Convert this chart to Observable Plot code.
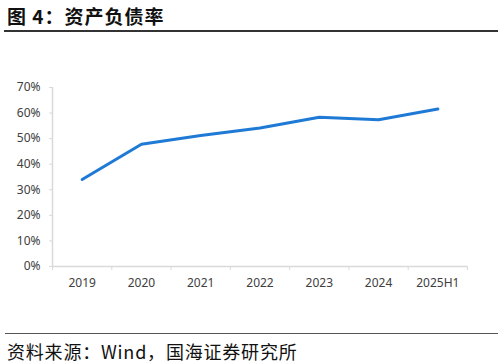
<!DOCTYPE html>
<html>
<head>
<meta charset="utf-8">
<script src="https://cdn.jsdelivr.net/npm/d3@7"></script>
<script src="https://cdn.jsdelivr.net/npm/@observablehq/plot@0.6"></script>
<style>
  html, body { margin: 0; padding: 0; background: #fff; }
  body { width: 498px; height: 364px; position: relative; overflow: hidden;
         font-family: "Noto Sans", "Noto Sans CJK SC", sans-serif; }
  #title { position: absolute; left: 7px; top: 4px; font-size: 19px; font-weight: bold;
           font-family: "Noto Sans CJK SC", sans-serif; color: #111; letter-spacing: 1px; line-height: 24px; }
  #topline { position: absolute; left: 4px; right: 0; top: 30px; height: 0; border-top: 2px solid #333; }
  #legend { position: absolute; left: 196px; top: 63px; font-size: 11px; color: #404040;
            font-family: "Noto Sans CJK SC", sans-serif; line-height: 16px; display: flex; align-items: center; }
  #legend .sw { width: 26px; height: 3px; margin-right: 1px; }
  #chart { position: absolute; left: 0; top: 40px; }
  #botline { position: absolute; left: 5px; right: 0; top: 333px; height: 0; border-top: 1.5px solid #555; }
  #caption { position: absolute; left: 7px; top: 340px; font-size: 18px; color: #111;
             font-family: "Noto Sans CJK SC", sans-serif; line-height: 22px; letter-spacing: 0.8px; }
</style>
</head>
<body>
<div id="title">图 4：资产负债率</div>
<div id="topline"></div>
<div id="legend"></div>
<div id="chart"></div>
<div id="botline"></div>
<div id="caption">资料来源：Wind，国海证券研究所</div>
<script>
const categories = ["2019", "2020", "2021", "2022", "2023", "2024", "2025H1"];
const values = [34.0, 47.8, 51.2, 54.2, 58.4, 57.4, 61.6];
const seriesName = "资产负债率（%）";
const yTicks = [0, 10, 20, 30, 40, 50, 60, 70];

const lineColor = "#1f7ad6";
const axisColor = "#d9d9d9";
const textColor = "#404040";

const data = categories.map((c, i) => ({i, cat: c, v: values[i]}));
const idx = categories.map((c, i) => i);
const bounds = [...idx.map(i => i - 0.5), categories.length - 0.5];

document.getElementById("legend").innerHTML =
  `<div class="sw" style="background:${lineColor}"></div><span>${seriesName}</span>`;

const chart = Plot.plot({
  width: 498,
  height: 280,
  marginLeft: 52,
  marginRight: 31,
  marginTop: 47,
  marginBottom: 54,
  style: {fontFamily: "'Noto Sans', 'Noto Sans CJK SC', sans-serif", fontSize: "12px", color: textColor, background: "#fff"},
  x: {type: "linear", domain: [-0.5, categories.length - 0.5]},
  y: {domain: [0, 70]},
  marks: [
    Plot.ruleY([0], {stroke: axisColor, strokeWidth: 1.5}),
    Plot.ruleX([-0.5], {stroke: axisColor, strokeWidth: 1.5}),
    Plot.axisY({ticks: yTicks, tickFormat: d => d + "%", tickSize: 3, tickPadding: 9,
                stroke: axisColor, fill: textColor, label: null}),
    Plot.axisX({ticks: idx, tickFormat: i => categories[i], tickSize: 0, tickPadding: 12,
                fill: textColor, label: null}),
    Plot.axisX({ticks: bounds, tickFormat: () => "", tickSize: 4, stroke: axisColor, label: null}),
    Plot.line(data, {x: "i", y: "v", stroke: lineColor, strokeWidth: 3, strokeLinejoin: "round", strokeLinecap: "round"})
  ]
});
document.getElementById("chart").appendChild(chart);
</script>
</body>
</html>
